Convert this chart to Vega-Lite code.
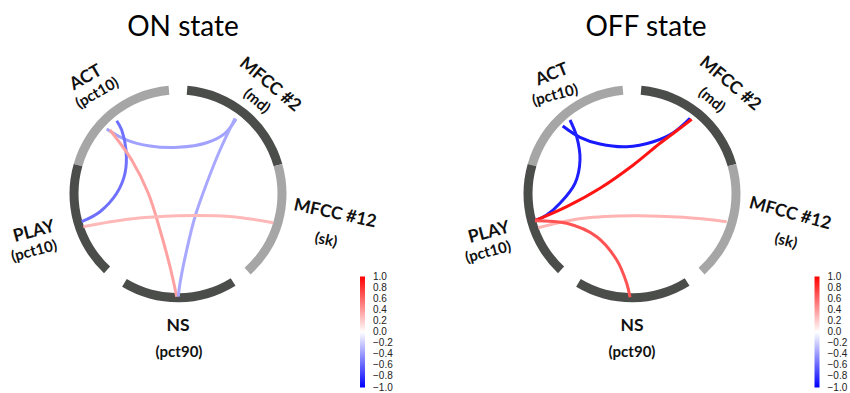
{
  "$schema": "https://vega.github.io/schema/vega-lite/v6.json",
  "padding": 0,
  "spacing": 0,
  "background": "white",
  "config": {"view": {"stroke": null}},
  "datasets": {
    "segments": [
      {"node": "ACT", "start": 286, "end": 355, "shade": "light"},
      {"node": "MFCC #2", "start": 5, "end": 74, "shade": "dark"},
      {"node": "MFCC #12", "start": 74, "end": 138, "shade": "light"},
      {"node": "NS", "start": 148, "end": 211, "shade": "dark"},
      {"node": "PLAY", "start": 223, "end": 286, "shade": "dark"}
    ],
    "onChords": [
      {"chord": "ACT-MFCC2", "r": -0.37, "i": 0, "x": -0.713, "y": 0.648},
      {"chord": "ACT-MFCC2", "r": -0.37, "i": 1, "x": -0.53, "y": 0.545},
      {"chord": "ACT-MFCC2", "r": -0.37, "i": 2, "x": -0.28, "y": 0.478},
      {"chord": "ACT-MFCC2", "r": -0.37, "i": 3, "x": 0.003, "y": 0.465},
      {"chord": "ACT-MFCC2", "r": -0.37, "i": 4, "x": 0.287, "y": 0.511},
      {"chord": "ACT-MFCC2", "r": -0.37, "i": 5, "x": 0.47, "y": 0.605},
      {"chord": "ACT-MFCC2", "r": -0.37, "i": 6, "x": 0.58, "y": 0.748},
      {"chord": "ACT-PLAY", "r": -0.56, "i": 0, "x": -0.613, "y": 0.731},
      {"chord": "ACT-PLAY", "r": -0.56, "i": 1, "x": -0.563, "y": 0.638},
      {"chord": "ACT-PLAY", "r": -0.56, "i": 2, "x": -0.52, "y": 0.438},
      {"chord": "ACT-PLAY", "r": -0.56, "i": 3, "x": -0.53, "y": 0.205},
      {"chord": "ACT-PLAY", "r": -0.56, "i": 4, "x": -0.613, "y": 0.005},
      {"chord": "ACT-PLAY", "r": -0.56, "i": 5, "x": -0.78, "y": -0.179},
      {"chord": "ACT-PLAY", "r": -0.56, "i": 6, "x": -0.963, "y": -0.279},
      {"chord": "ACT-NS", "r": 0.37, "i": 0, "x": -0.68, "y": 0.638},
      {"chord": "ACT-NS", "r": 0.37, "i": 1, "x": -0.463, "y": 0.338},
      {"chord": "ACT-NS", "r": 0.37, "i": 2, "x": -0.297, "y": 0.005},
      {"chord": "ACT-NS", "r": 0.37, "i": 3, "x": -0.18, "y": -0.362},
      {"chord": "ACT-NS", "r": 0.37, "i": 4, "x": -0.08, "y": -0.729},
      {"chord": "ACT-NS", "r": 0.37, "i": 5, "x": -0.013, "y": -1.029},
      {"chord": "MFCC2-NS", "r": -0.34, "i": 0, "x": 0.57, "y": 0.755},
      {"chord": "MFCC2-NS", "r": -0.34, "i": 1, "x": 0.42, "y": 0.438},
      {"chord": "MFCC2-NS", "r": -0.34, "i": 2, "x": 0.287, "y": 0.105},
      {"chord": "MFCC2-NS", "r": -0.34, "i": 3, "x": 0.17, "y": -0.229},
      {"chord": "MFCC2-NS", "r": -0.34, "i": 4, "x": 0.087, "y": -0.562},
      {"chord": "MFCC2-NS", "r": -0.34, "i": 5, "x": 0.02, "y": -0.895},
      {"chord": "MFCC2-NS", "r": -0.34, "i": 6, "x": 0.003, "y": -1.029},
      {"chord": "PLAY-MFCC12", "r": 0.28, "i": 0, "x": -0.947, "y": -0.329},
      {"chord": "PLAY-MFCC12", "r": 0.28, "i": 1, "x": -0.48, "y": -0.252},
      {"chord": "PLAY-MFCC12", "r": 0.28, "i": 2, "x": 0.0, "y": -0.219},
      {"chord": "PLAY-MFCC12", "r": 0.28, "i": 3, "x": 0.52, "y": -0.227},
      {"chord": "PLAY-MFCC12", "r": 0.28, "i": 4, "x": 0.953, "y": -0.289}
    ],
    "offChords": [
      {"chord": "ACT-MFCC2", "r": -0.9, "i": 0, "x": -0.693, "y": 0.678},
      {"chord": "ACT-MFCC2", "r": -0.9, "i": 1, "x": -0.52, "y": 0.565},
      {"chord": "ACT-MFCC2", "r": -0.9, "i": 2, "x": -0.32, "y": 0.498},
      {"chord": "ACT-MFCC2", "r": -0.9, "i": 3, "x": -0.053, "y": 0.471},
      {"chord": "ACT-MFCC2", "r": -0.9, "i": 4, "x": 0.213, "y": 0.521},
      {"chord": "ACT-MFCC2", "r": -0.9, "i": 5, "x": 0.413, "y": 0.611},
      {"chord": "ACT-MFCC2", "r": -0.9, "i": 6, "x": 0.58, "y": 0.755},
      {"chord": "ACT-PLAY", "r": -0.88, "i": 0, "x": -0.62, "y": 0.738},
      {"chord": "ACT-PLAY", "r": -0.88, "i": 1, "x": -0.553, "y": 0.571},
      {"chord": "ACT-PLAY", "r": -0.88, "i": 2, "x": -0.52, "y": 0.338},
      {"chord": "ACT-PLAY", "r": -0.88, "i": 3, "x": -0.57, "y": 0.105},
      {"chord": "ACT-PLAY", "r": -0.88, "i": 4, "x": -0.72, "y": -0.095},
      {"chord": "ACT-PLAY", "r": -0.88, "i": 5, "x": -0.853, "y": -0.212},
      {"chord": "ACT-PLAY", "r": -0.88, "i": 6, "x": -0.97, "y": -0.269},
      {"chord": "PLAY-MFCC2", "r": 0.92, "i": 0, "x": -0.97, "y": -0.269},
      {"chord": "PLAY-MFCC2", "r": 0.92, "i": 1, "x": -0.653, "y": -0.129},
      {"chord": "PLAY-MFCC2", "r": 0.92, "i": 2, "x": -0.32, "y": 0.055},
      {"chord": "PLAY-MFCC2", "r": 0.92, "i": 3, "x": 0.013, "y": 0.288},
      {"chord": "PLAY-MFCC2", "r": 0.92, "i": 4, "x": 0.28, "y": 0.505},
      {"chord": "PLAY-MFCC2", "r": 0.92, "i": 5, "x": 0.48, "y": 0.655},
      {"chord": "PLAY-MFCC2", "r": 0.92, "i": 6, "x": 0.597, "y": 0.745},
      {"chord": "PLAY-MFCC12", "r": 0.3, "i": 0, "x": -0.937, "y": -0.339},
      {"chord": "PLAY-MFCC12", "r": 0.3, "i": 1, "x": -0.487, "y": -0.245},
      {"chord": "PLAY-MFCC12", "r": 0.3, "i": 2, "x": 0.013, "y": -0.219},
      {"chord": "PLAY-MFCC12", "r": 0.3, "i": 3, "x": 0.513, "y": -0.235},
      {"chord": "PLAY-MFCC12", "r": 0.3, "i": 4, "x": 0.947, "y": -0.279},
      {"chord": "PLAY-NS", "r": 0.68, "i": 0, "x": -0.97, "y": -0.269},
      {"chord": "PLAY-NS", "r": 0.68, "i": 1, "x": -0.653, "y": -0.295},
      {"chord": "PLAY-NS", "r": 0.68, "i": 2, "x": -0.353, "y": -0.429},
      {"chord": "PLAY-NS", "r": 0.68, "i": 3, "x": -0.153, "y": -0.662},
      {"chord": "PLAY-NS", "r": 0.68, "i": 4, "x": -0.053, "y": -0.895},
      {"chord": "PLAY-NS", "r": 0.68, "i": 5, "x": -0.02, "y": -1.035}
    ],
    "onLabels": [
      {"t": "ACT", "kind": "name", "x": -0.92, "y": 1.16, "rot": -30},
      {"t": "(pct10)", "kind": "stat", "x": -0.81, "y": 1.01, "rot": -30},
      {"t": "MFCC #2", "kind": "name", "x": 0.92, "y": 1.09, "rot": 40},
      {"t": "(md)", "kind": "stat", "x": 0.79, "y": 0.93, "rot": 40},
      {"t": "MFCC #12", "kind": "name", "x": 1.57, "y": -0.2, "rot": 12},
      {"t": "(sk)", "kind": "stat", "x": 1.48, "y": -0.46, "rot": 12},
      {"t": "PLAY", "kind": "name", "x": -1.44, "y": -0.38, "rot": -15},
      {"t": "(pct10)", "kind": "stat", "x": -1.44, "y": -0.57, "rot": -15},
      {"t": "NS", "kind": "name", "x": 0, "y": -1.32, "rot": 0},
      {"t": "(pct90)", "kind": "stat", "x": 0.01, "y": -1.58, "rot": 0}
    ],
    "offLabels": [
      {"t": "ACT", "kind": "name", "x": -0.8, "y": 1.19, "rot": -22},
      {"t": "(pct10)", "kind": "stat", "x": -0.77, "y": 0.99, "rot": -15},
      {"t": "MFCC #2", "kind": "name", "x": 0.98, "y": 1.1, "rot": 40},
      {"t": "(md)", "kind": "stat", "x": 0.8, "y": 0.94, "rot": 40},
      {"t": "MFCC #12", "kind": "name", "x": 1.58, "y": -0.2, "rot": 15},
      {"t": "(sk)", "kind": "stat", "x": 1.54, "y": -0.47, "rot": 15},
      {"t": "PLAY", "kind": "name", "x": -1.43, "y": -0.39, "rot": -15},
      {"t": "(pct10)", "kind": "stat", "x": -1.44, "y": -0.58, "rot": -15},
      {"t": "NS", "kind": "name", "x": 0, "y": -1.32, "rot": 0},
      {"t": "(pct90)", "kind": "stat", "x": 0, "y": -1.58, "rot": 0}
    ]
  },
  "hconcat": [
    {
      "width": 425,
      "height": 393,
      "layer": [
        {
          "data": {"name": "segments"},
          "mark": {"type": "arc", "radius": 108.5, "radius2": 99.5},
          "encoding": {
            "x": {"datum": 0, "type": "quantitative", "scale": {"domain": [-1.78, 2.47], "nice": false, "zero": false}, "axis": null},
            "y": {"datum": 0, "type": "quantitative", "scale": {"domain": [-1.992, 1.938], "nice": false, "zero": false}, "axis": null},
            "theta": {"field": "start", "type": "quantitative", "stack": null, "scale": {"domain": [0, 360], "range": [0, 6.283185307179586]}},
            "theta2": {"field": "end"},
            "fill": {"field": "shade", "type": "nominal", "scale": {"domain": ["light", "dark"], "range": ["#a6a6a6", "#4b4d4b"]}, "legend": null}
          }
        },
        {
          "data": {"name": "onChords"},
          "mark": {"type": "line", "interpolate": "catmull-rom", "strokeWidth": 3},
          "encoding": {
            "x": {"field": "x", "type": "quantitative", "scale": {"domain": [-1.78, 2.47], "nice": false, "zero": false}, "axis": null},
            "y": {"field": "y", "type": "quantitative", "scale": {"domain": [-1.992, 1.938], "nice": false, "zero": false}, "axis": null},
            "detail": {"field": "chord"},
            "order": {"field": "i"},
            "color": {
              "field": "r", "type": "quantitative",
              "scale": {"domain": [-1, 0, 1], "range": ["#0000ff", "#ffffff", "#ff0000"], "interpolate": "rgb"},
              "legend": {"orient": "none", "legendX": 360, "legendY": 276.5, "direction": "vertical", "gradientLength": 111, "gradientThickness": 5, "values": [-1, -0.8, -0.6, -0.4, -0.2, 0, 0.2, 0.4, 0.6, 0.8, 1], "format": ".1f", "labelFont": "Liberation Sans", "labelFontSize": 10, "labelColor": "#222222", "labelOffset": 8, "labelOverlap": false, "labelBaseline": "middle", "title": null, "encode": {"labels": {"update": {"baseline": {"value": "middle"}}}}}
            }
          }
        },
        {
          "data": {"name": "onLabels"},
          "mark": {"type": "text", "font": "Lato", "fontWeight": "bold", "align": "center", "baseline": "middle", "color": "#111111"},
          "encoding": {
            "x": {"field": "x", "type": "quantitative", "scale": {"domain": [-1.78, 2.47], "nice": false, "zero": false}, "axis": null},
            "y": {"field": "y", "type": "quantitative", "scale": {"domain": [-1.992, 1.938], "nice": false, "zero": false}, "axis": null},
            "text": {"field": "t"},
            "angle": {"field": "rot", "type": "quantitative", "scale": null},
            "size": {"field": "kind", "type": "ordinal", "scale": {"domain": ["name", "stat"], "range": [17.5, 15]}, "legend": null}
          }
        },
        {
          "data": {"values": [{"title": "ON state"}]},
          "mark": {"type": "text", "font": "Lato", "fontSize": 28, "align": "center", "baseline": "middle", "color": "#000000"},
          "encoding": {
            "x": {"datum": 0.05, "type": "quantitative", "scale": {"domain": [-1.78, 2.47], "nice": false, "zero": false}, "axis": null},
            "y": {"datum": 1.66, "type": "quantitative", "scale": {"domain": [-1.992, 1.938], "nice": false, "zero": false}, "axis": null},
            "text": {"field": "title"}
          }
        }
      ]
    },
    {
      "width": 425,
      "height": 393,
      "layer": [
        {
          "data": {"name": "segments"},
          "mark": {"type": "arc", "radius": 108.5, "radius2": 99.5},
          "encoding": {
            "x": {"datum": 0, "type": "quantitative", "scale": {"domain": [-2.07, 2.18], "nice": false, "zero": false}, "axis": null},
            "y": {"datum": 0, "type": "quantitative", "scale": {"domain": [-1.992, 1.938], "nice": false, "zero": false}, "axis": null},
            "theta": {"field": "start", "type": "quantitative", "stack": null, "scale": {"domain": [0, 360], "range": [0, 6.283185307179586]}},
            "theta2": {"field": "end"},
            "fill": {"field": "shade", "type": "nominal", "scale": {"domain": ["light", "dark"], "range": ["#a6a6a6", "#4b4d4b"]}, "legend": null}
          }
        },
        {
          "data": {"name": "offChords"},
          "mark": {"type": "line", "interpolate": "catmull-rom", "strokeWidth": 3},
          "encoding": {
            "x": {"field": "x", "type": "quantitative", "scale": {"domain": [-2.07, 2.18], "nice": false, "zero": false}, "axis": null},
            "y": {"field": "y", "type": "quantitative", "scale": {"domain": [-1.992, 1.938], "nice": false, "zero": false}, "axis": null},
            "detail": {"field": "chord"},
            "order": {"field": "i"},
            "color": {
              "field": "r", "type": "quantitative",
              "scale": {"domain": [-1, 0, 1], "range": ["#0000ff", "#ffffff", "#ff0000"], "interpolate": "rgb"},
              "legend": {"orient": "none", "legendX": 389.5, "legendY": 276.5, "direction": "vertical", "gradientLength": 111, "gradientThickness": 5, "values": [-1, -0.8, -0.6, -0.4, -0.2, 0, 0.2, 0.4, 0.6, 0.8, 1], "format": ".1f", "labelFont": "Liberation Sans", "labelFontSize": 10, "labelColor": "#222222", "labelOffset": 8, "labelOverlap": false, "labelBaseline": "middle", "title": null, "encode": {"labels": {"update": {"baseline": {"value": "middle"}}}}}
            }
          }
        },
        {
          "data": {"name": "offLabels"},
          "mark": {"type": "text", "font": "Lato", "fontWeight": "bold", "align": "center", "baseline": "middle", "color": "#111111"},
          "encoding": {
            "x": {"field": "x", "type": "quantitative", "scale": {"domain": [-2.07, 2.18], "nice": false, "zero": false}, "axis": null},
            "y": {"field": "y", "type": "quantitative", "scale": {"domain": [-1.992, 1.938], "nice": false, "zero": false}, "axis": null},
            "text": {"field": "t"},
            "angle": {"field": "rot", "type": "quantitative", "scale": null},
            "size": {"field": "kind", "type": "ordinal", "scale": {"domain": ["name", "stat"], "range": [17.5, 15]}, "legend": null}
          }
        },
        {
          "data": {"values": [{"title": "OFF state"}]},
          "mark": {"type": "text", "font": "Lato", "fontSize": 28, "align": "center", "baseline": "middle", "color": "#000000"},
          "encoding": {
            "x": {"datum": 0.14, "type": "quantitative", "scale": {"domain": [-2.07, 2.18], "nice": false, "zero": false}, "axis": null},
            "y": {"datum": 1.66, "type": "quantitative", "scale": {"domain": [-1.992, 1.938], "nice": false, "zero": false}, "axis": null},
            "text": {"field": "title"}
          }
        }
      ]
    }
  ],
  "resolve": {"scale": {"color": "independent"}}
}
